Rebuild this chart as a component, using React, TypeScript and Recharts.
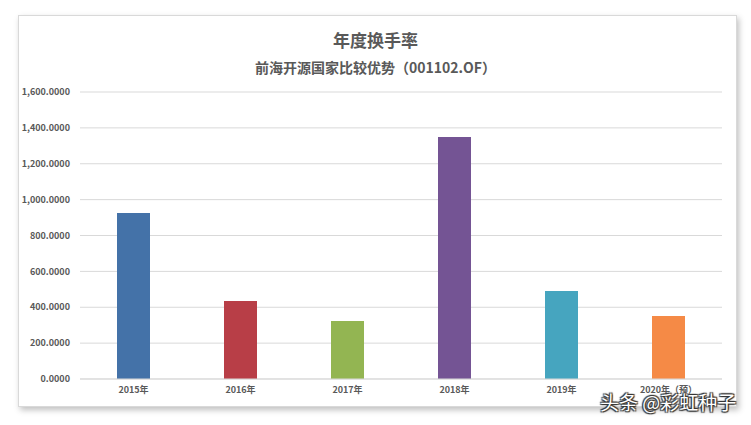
import React from "react";
import { BarChart, Bar, XAxis, YAxis, CartesianGrid, Cell } from "recharts";

const categories = ["2015年", "2016年", "2017年", "2018年", "2019年", "2020年（预）"];
const turnover = [925, 435, 323, 1349, 490, 351];
const barColors = ["#4472a8", "#b83e47", "#93b552", "#745494", "#46a5bf", "#f58a46"];
const yTicks = [0, 200, 400, 600, 800, 1000, 1200, 1400, 1600];
const title = "年度换手率";
const subtitle = "前海开源国家比较优势（001102.OF）";
const watermark = "头条 @彩虹种子";

const data = categories.map((c, i) => ({ name: c, value: turnover[i] }));

const font = '"Noto Sans CJK SC", "Noto Sans", sans-serif';

const fmt = (v: number) =>
  v.toLocaleString("en-US", { minimumFractionDigits: 4, maximumFractionDigits: 4 });

export default function App() {
  return (
    <div style={{ position: "absolute", left: 0, top: 0, width: 751, height: 425, background: "#ffffff", fontFamily: font, overflow: "hidden" }}>
      <div
        style={{
          position: "absolute",
          left: 18,
          top: 15,
          width: 717,
          height: 390,
          background: "#fff",
          border: "1px solid #d9d9d9",
          boxShadow: "2px 3px 6px rgba(0,0,0,0.25)",
        }}
      />
      <div style={{ position: "absolute", left: 0, width: 751, top: 28, textAlign: "center", fontSize: 17, fontWeight: 700, color: "#595959", lineHeight: "24px" }}>
        {title}
      </div>
      <div style={{ position: "absolute", left: 0, width: 751, top: 57, textAlign: "center", fontSize: 14, fontWeight: 700, color: "#595959", lineHeight: "20px" }}>
        {subtitle}
      </div>
      <div style={{ position: "absolute", left: 0, top: 0 }}>
        <BarChart width={751} height={425} data={data} margin={{ top: 92, right: 29, bottom: 16, left: 8 }}>
          <CartesianGrid vertical={false} stroke="#d9d9d9" />
          <XAxis
            dataKey="name"
            height={30}
            axisLine={{ stroke: "#d9d9d9" }}
            tickLine={false}
            tick={{ fontSize: 9, fontWeight: 700, fill: "#595959", fontFamily: font }}
            interval={0}
          />
          <YAxis
            width={72}
            domain={[0, 1600]}
            ticks={yTicks}
            axisLine={false}
            tickLine={false}
            tickMargin={4}
            tickFormatter={fmt}
            tick={{ fontSize: 9, fontWeight: 700, fill: "#595959", fontFamily: font }}
          />
          <Bar dataKey="value" barSize={33} isAnimationActive={false}>
            {data.map((d, i) => (
              <Cell key={d.name} fill={barColors[i]} />
            ))}
          </Bar>
        </BarChart>
      </div>
      <div
        style={{
          position: "absolute",
          left: 600,
          top: 389,
          fontSize: 19,
          color: "#ffffff",
          lineHeight: "26px",
          textShadow: "0 0 1px #333, 1px 1px 1px #333, -1px -1px 1px #333, 1px -1px 1px #333, -1px 1px 1px #333",
          whiteSpace: "nowrap",
        }}
      >
        {watermark}
      </div>
    </div>
  );
}
